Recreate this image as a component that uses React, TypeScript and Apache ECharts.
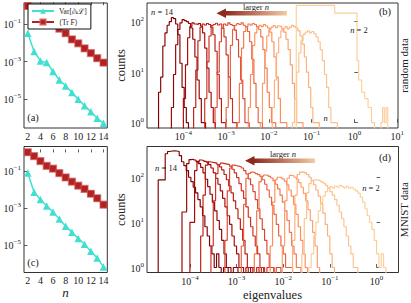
import React, { useEffect, useRef } from "react";
import * as echarts from "echarts";

const FONT = '"Liberation Serif", "DejaVu Serif", serif';

// ---------- panels (a) & (c): scaling with n ----------
const nValues = [2, 3, 4, 5, 6, 7, 8, 9, 10, 11, 12, 13, 14];
const gradVarRandom = [3.2e-2, 3.4e-3, 1.07e-3, 8.7e-4, 2.9e-4, 1.02e-4, 4.9e-5, 2.2e-5, 9.5e-6, 4.3e-6, 2.1e-6, 9.3e-7, 5.0e-7];
const fisherTrRandom = [0.91, 0.5, 0.28, 0.16, 0.1, 0.056, 0.032, 0.015, 0.0093, 0.005, 0.0028, 0.0015, 0.00087];
const gradVarMnist = [0.076, 0.0069, 0.0028, 0.00126, 0.0006, 0.000245, 0.000102, 4.7e-5, 2.2e-5, 1.07e-5, 4.4e-6, 1.95e-6, 6.2e-7];
const fisherTrMnist = [1.02, 0.63, 0.34, 0.186, 0.132, 0.076, 0.044, 0.026, 0.0158, 0.0105, 0.0058, 0.0033, 0.00148];

const legendVar = "Var[∂ₖℒ]";
const legendTr = "⟨Tr F⟩";

// ---------- panels (b) & (d): eigenvalue histograms ----------
const binDecades = 0.05; // log-spaced bins, width in decades

// random data, n = 14 ... 3
const randomHistN = [14, 13, 12, 11, 10, 9, 8, 7, 6, 5, 4, 3];
const randomFirstEdge = [2.63e-5, 5.25e-5, 1.0e-4, 1.74e-4, 3.16e-4, 5.5e-4, 1.0e-3, 1.82e-3, 3.31e-3, 6.31e-3, 1.2e-2, 3.55e-2];
const randomCounts = [
  [4, 8, 33, 60, 85, 100, 120, 115, 90, 55, 15, 5, 2, 1],
  [2, 9, 35, 70, 95, 110, 105, 100, 92, 75, 45, 20, 7, 3, 1, 1],
  [3, 14, 48, 80, 95, 90, 88, 92, 82, 60, 30, 12, 4, 2, 1],
  [2, 11, 42, 78, 90, 86, 92, 88, 78, 55, 26, 9, 3, 1, 1],
  [3, 16, 52, 84, 88, 93, 86, 90, 74, 50, 22, 8, 3, 1, 1],
  [2, 10, 40, 74, 90, 85, 95, 88, 84, 68, 44, 20, 7, 3, 1, 1],
  [2, 8, 34, 70, 85, 92, 88, 95, 85, 80, 64, 40, 18, 6, 2, 1, 1],
  [1, 6, 30, 64, 80, 90, 85, 92, 88, 80, 70, 50, 28, 12, 4, 2, 1, 1],
  [2, 9, 34, 60, 78, 85, 80, 88, 82, 75, 62, 40, 20, 8, 3, 1, 1, 1],
  [1, 6, 26, 52, 70, 78, 84, 76, 82, 80, 72, 62, 45, 28, 14, 6, 3, 1, 1, 1],
  [2, 7, 24, 48, 66, 74, 80, 72, 78, 85, 80, 75, 66, 52, 36, 20, 10, 5, 2, 1, 1, 1],
  [1, 3, 10, 24, 42, 56, 62, 66, 60, 64, 58, 50, 40, 28, 17, 9, 5, 2, 1, 1, 1],
];
// random data, n = 2 (irregular wide bins)
const randomN2Edges = [0.0437, 0.347, 1.15, 1.26, 1.48, 1.74, 2.09, 2.51, 2.95, 4.17, 4.57, 5.01, 5.5, 6.03];
const randomN2Counts = [210, 148, 17, 7, 4, 3, 2, 1, 0, 1, 2, 1, 2];

// MNIST data, n = 14 ... 2
const mnistHistN = [14, 13, 12, 11, 10, 9, 8, 7, 6, 5, 4, 3, 2];
const mnistFirstEdge = [2.09e-5, 6.76e-5, 1.0e-4, 1.7e-4, 2.82e-4, 5.62e-4, 1.26e-3, 2.4e-3, 5.25e-3, 9.55e-3, 1.58e-2, 2.51e-2, 3.55e-2];
const mnistCounts = [
  [87, 87, 87, 330, 370, 380, 385, 380, 370, 300, 220, 180, 140, 100, 80, 60, 45, 32, 22, 14, 8, 5, 3, 2, 1, 2, 1, 0, 1, 1],
  [17, 17, 200, 245, 250, 240, 225, 200, 165, 125, 90, 62, 42, 28, 18, 11, 7, 4, 2, 1, 1, 0, 1, 1],
  [10, 10, 140, 215, 240, 235, 225, 215, 190, 160, 125, 95, 70, 50, 34, 22, 14, 9, 5, 3, 2, 1, 1, 0, 1, 0, 1],
  [5, 40, 185, 220, 215, 210, 205, 190, 170, 145, 115, 88, 64, 45, 30, 20, 12, 7, 4, 2, 1, 1, 1, 0, 1, 0, 1],
  [3, 30, 120, 190, 205, 200, 195, 190, 175, 150, 125, 98, 72, 50, 34, 22, 13, 8, 5, 3, 2, 1, 1, 0, 1, 1, 1],
  [4, 50, 160, 185, 180, 176, 170, 160, 140, 118, 92, 68, 48, 32, 20, 12, 7, 4, 2, 1, 1, 0, 1, 1],
  [3, 25, 95, 122, 130, 126, 120, 114, 104, 88, 70, 52, 36, 24, 15, 9, 5, 3, 2, 1, 1, 1],
  [2, 18, 80, 105, 112, 110, 104, 96, 84, 70, 55, 40, 28, 18, 11, 6, 3, 2, 1, 1],
  [3, 28, 88, 100, 98, 92, 82, 68, 52, 38, 25, 15, 8, 4, 2, 1],
  [3, 30, 95, 110, 108, 100, 90, 76, 60, 44, 30, 19, 11, 6, 3, 1],
  [4, 40, 115, 130, 132, 125, 115, 100, 84, 68, 52, 38, 26, 16, 9, 5, 2, 1],
  [2, 12, 45, 72, 85, 88, 86, 84, 80, 74, 66, 58, 48, 40, 32, 24, 17, 12, 8, 5, 3, 2, 1, 1],
  [1, 2, 5, 10, 18, 28, 38, 48, 56, 62, 58, 64, 60, 66, 62, 58, 63, 57, 60, 54, 50, 44, 36, 28, 20, 14, 10, 7, 4, 2, 1, 2, 1],
];

// colours for n = 2 ... 14 (light -> dark)
const histPalette = ["#fccf98", "#fdc28c", "#fdb07a", "#fc9d6a", "#fc8d59", "#f4754b", "#e9603f", "#db4631", "#cc2f21", "#bb1a10", "#a80704", "#920000", "#7f0000"];

const lg = Math.log10;
const cy = (c: number) => (c > 0 ? Math.log10(c) : -1);

function stepData(logEdges: number[], counts: number[]) {
  const pts: number[][] = [[logEdges[0], -1]];
  counts.forEach((c, i) => pts.push([logEdges[i], cy(c)]));
  const last = logEdges[logEdges.length - 1];
  pts.push([last, cy(counts[counts.length - 1])]);
  pts.push([last, -1]);
  return pts;
}

function histSeries(n: number, logEdges: number[], counts: number[], axis: number) {
  return {
    type: "line",
    xAxisIndex: axis,
    yAxisIndex: axis,
    data: stepData(logEdges, counts),
    step: "end",
    symbol: "none",
    silent: true,
    clip: true,
    lineStyle: { color: histPalette[n - 2], width: 1.15 },
    z: 2 + (14 - n) * 0.01,
  };
}

const supLabel = (v: number) => `{b|10}{s|${v < 0 ? "\u2212" + -v : v}}`;
const supRich = {
  b: { fontSize: 10, fontFamily: FONT, color: "#222", lineHeight: 12, verticalAlign: "bottom" },
  s: { fontSize: 7, fontFamily: FONT, color: "#222", lineHeight: 5, verticalAlign: "top" },
};

function logAxis(gridIndex: number, min: number, max: number, ticks: number[], isX: boolean) {
  return {
    type: "value",
    gridIndex,
    min,
    max,
    axisLine: { show: false },
    splitLine: { show: false },
    axisTick: { show: true, inside: true, length: 3.5, customValues: ticks, lineStyle: { color: "#333", width: 0.8 } },
    axisLabel: { customValues: ticks, formatter: supLabel, rich: supRich, margin: isX ? 1.5 : 3 },
  };
}

function linAxis(gridIndex: number) {
  const ticks = [2, 4, 6, 8, 10, 12, 14];
  return {
    type: "value",
    gridIndex,
    min: 1.4,
    max: 14.6,
    axisLine: { show: false },
    splitLine: { show: false },
    axisTick: { show: true, inside: true, length: 3, customValues: ticks, lineStyle: { color: "#333", width: 0.8 } },
    axisLabel: { customValues: ticks, fontSize: 10, fontFamily: FONT, color: "#222", margin: 3 },
  };
}

function scalingSeries(axis: number, varVals: number[], trVals: number[]) {
  return [
    {
      type: "line",
      name: legendVar,
      xAxisIndex: axis,
      yAxisIndex: axis,
      data: nValues.map((n, i) => [n, lg(varVals[i])]),
      symbol: "triangle",
      symbolSize: 7.5,
      lineStyle: { color: "#40e0d0", width: 1.5 },
      itemStyle: { color: "#40e0d0" },
      z: 3,
    },
    {
      type: "line",
      name: legendTr,
      xAxisIndex: axis,
      yAxisIndex: axis,
      data: nValues.map((n, i) => [n, lg(trVals[i])]),
      symbol: "rect",
      symbolSize: 7,
      lineStyle: { color: "#b22222", width: 1.5 },
      itemStyle: { color: "#b22222", borderColor: "rgba(210,90,90,0.6)", borderWidth: 1.2 },
      z: 3,
    },
  ];
}

function txt(x: number, y: number, text: string, fontSize: number, extra: any = {}) {
  return {
    type: "text",
    x,
    y,
    rotation: extra.rotation || 0,
    z: 100,
    style: {
      text,
      fontSize,
      fontFamily: FONT,
      fill: "#222",
      align: "center",
      verticalAlign: "middle",
      textAlign: "center",
      textVerticalAlign: "middle",
      rich: { i: { fontStyle: "italic", fontSize, fontFamily: FONT, fill: "#222", color: "#222" } },
      ...(extra.style || {}),
    },
  };
}

function arrow(tipX: number, y: number, headLen: number, tailX: number) {
  const grad = new echarts.graphic.LinearGradient(0, 0, 1, 0, [
    { offset: 0, color: "#8e2a1c" },
    { offset: 1, color: "#f4cba3" },
  ]);
  return [
    { type: "rect", z: 100, shape: { x: tipX + headLen - 0.5, y: y - 2.3, width: tailX - tipX - headLen + 0.5, height: 4.6 }, style: { fill: grad } },
    { type: "polygon", z: 100, shape: { points: [[tipX, y], [tipX + headLen, y - 4.8], [tipX + headLen, y + 4.8]] }, style: { fill: "#8e2a1c" } },
  ];
}

function buildOption() {
  const series: any[] = [];
  series.push(...scalingSeries(0, gradVarRandom, fisherTrRandom));
  series.push(...scalingSeries(2, gradVarMnist, fisherTrMnist));

  // panel (b)
  series.push(histSeries(2, randomN2Edges.map(lg), randomN2Counts, 1));
  for (let k = randomHistN.length - 1; k >= 0; k--) {
    const counts = randomCounts[k];
    const start = lg(randomFirstEdge[k]);
    const edges = Array.from({ length: counts.length + 1 }, (_, i) => start + binDecades * i);
    series.push(histSeries(randomHistN[k], edges, counts, 1));
  }
  // panel (d)
  for (let k = mnistHistN.length - 1; k >= 0; k--) {
    const counts = mnistCounts[k];
    const start = lg(mnistFirstEdge[k]);
    const edges = Array.from({ length: counts.length + 1 }, (_, i) => start + binDecades * i);
    series.push(histSeries(mnistHistN[k], edges, counts, 3));
  }

  const gridBase = { show: true, borderColor: "#333", borderWidth: 1, backgroundColor: "transparent" };

  return {
    animation: false,
    backgroundColor: "#fff",
    textStyle: { fontFamily: FONT },
    grid: [
      { ...gridBase, left: 24, top: 3, width: 83.3, height: 125 },
      { ...gridBase, left: 147, top: 3, width: 251, height: 125 },
      { ...gridBase, left: 24, top: 146.5, width: 83.3, height: 126 },
      { ...gridBase, left: 147, top: 146.5, width: 251.5, height: 126 },
    ],
    xAxis: [
      linAxis(0),
      logAxis(1, -4.85, 1.02, [-4, -3, -2, -1, 0, 1], true),
      linAxis(2),
      logAxis(3, -4.92, 0.47, [-4, -3, -2, -1, 0], true),
    ],
    yAxis: [
      logAxis(0, -6.55, 0.12, [-5, -3, -1], false),
      logAxis(1, -0.105, 2.37, [0, 1, 2], false),
      logAxis(2, -6.5, 0.32, [-5, -3, -1], false),
      logAxis(3, -0.11, 2.68, [0, 1, 2], false),
    ],
    legend: {
      data: [legendVar, legendTr],
      left: 28,
      top: 4,
      orient: "vertical",
      selectedMode: false,
      backgroundColor: "#fff",
      borderColor: "#111",
      borderWidth: 1,
      borderRadius: 0,
      padding: [3, 4, 3, 3],
      itemWidth: 22,
      itemHeight: 7,
      itemGap: 3,
      textStyle: { fontSize: 7.5, fontFamily: FONT, color: "#222" },
    },
    series,
    graphic: [
      txt(33, 117, "(a)", 10.5),
      txt(33, 262, "(c)", 10.5),
      txt(385, 11, "(b)", 10.5),
      txt(385, 157, "(d)", 10.5),
      txt(121, 65.5, "counts", 12.5, { rotation: Math.PI / 2 }),
      txt(121, 209.6, "counts", 12.5, { rotation: Math.PI / 2 }),
      txt(404, 65.5, "random data", 11, { rotation: Math.PI / 2 }),
      txt(404, 209.6, "MNIST data", 11, { rotation: Math.PI / 2 }),
      txt(272.5, 294.5, "eigenvalues", 12.5),
      txt(65.5, 292, "{i|n}", 13),
      txt(162, 12, "{i|n} = 14", 8.5),
      txt(359, 30, "{i|n} = 2", 8.5),
      txt(325.5, 118, "{i|n}", 8.5),
      txt(166, 168, "{i|n} = 14", 8.5),
      txt(371, 188, "{i|n} = 2", 8.5),
      txt(256, 6.5, "larger {i|n}", 8.5),
      txt(283, 154, "larger {i|n}", 8.5),
      ...arrow(216.5, 13.3, 9.5, 287),
      ...arrow(245, 160.7, 9.5, 315),
    ],
  };
}

export default function App() {
  const ref = useRef<HTMLDivElement>(null);
  useEffect(() => {
    if (!ref.current) return;
    const chart = echarts.init(ref.current, null, { renderer: "svg" });
    chart.setOption(buildOption() as any);
    return () => chart.dispose();
  }, []);
  return <div ref={ref} style={{ position: "fixed", left: 0, top: 0, width: 411, height: 303 }} />;
}
